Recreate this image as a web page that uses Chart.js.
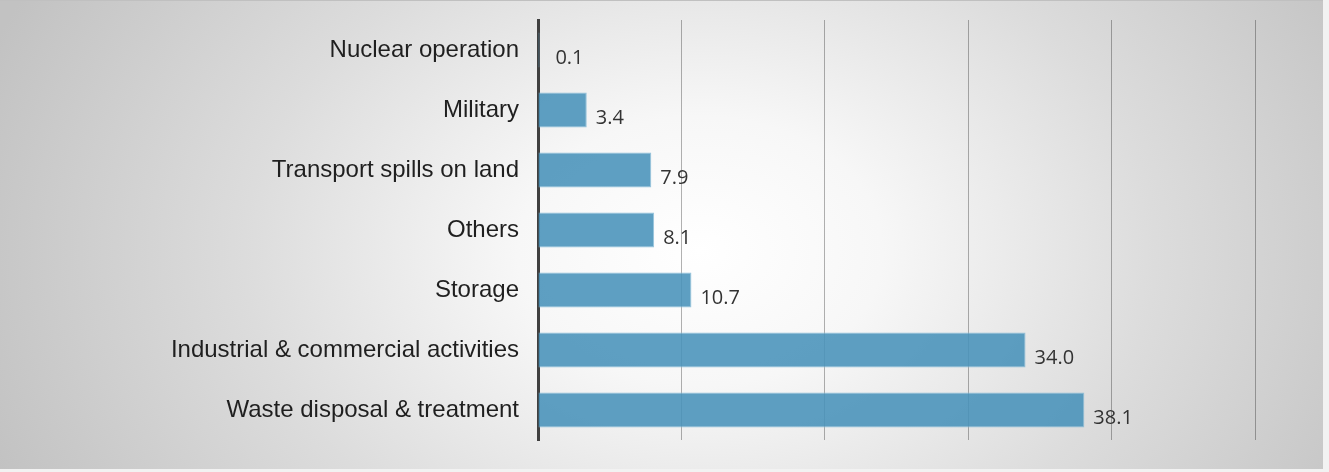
<!doctype html>
<html lang="en">
<head>
  <meta charset="utf-8">
  <title>Sources of contamination</title>
  <style type="text/css">
    html, body {
      margin: 0;
      padding: 0;
      background: #f2f2f2;
    }
    #frame {
      position: absolute;
      left: 0;
      top: 0;
      width: 1323px;
      height: 468px;
      background: radial-gradient(ellipse 760px 560px at 700px 250px, #ffffff 0%, #f7f7f7 24%, #dcdcdc 60%, #c2c2c2 100%);
      border-top: 1px solid #c0c0c0;
    }
    #chart_wrap {
      position: absolute;
      left: 0;
      top: 0;
      width: 1329px;
      height: 472px;
    }
  </style>
</head>
<body>
  <div id="frame"></div>
  <div id="chart_wrap">
    <canvas id="chart_sources" width="1329" height="472"></canvas>
  </div>

  <script src="https://cdn.jsdelivr.net/npm/chart.js"></script>
  <script>
    const labels_sources = ['Nuclear operation', 'Military', 'Transport spills on land', 'Others', 'Storage', 'Industrial & commercial activities', 'Waste disposal & treatment'];
    const data_sources = [0.1, 3.4, 7.9, 8.1, 10.7, 34.0, 38.1];
    const x_ticks = [0, 10, 20, 30, 40, 50];

    // draws the value next to the end of every bar
    const valueLabels = {
      id: 'valueLabels',
      afterDatasetsDraw(chart) {
        const ctx = chart.ctx;
        const meta = chart.getDatasetMeta(0);
        ctx.save();
        ctx.font = '20px "Open Sans"';
        ctx.fillStyle = '#333333';
        ctx.textAlign = 'left';
        ctx.textBaseline = 'middle';
        meta.data.forEach(function (bar, i) {
          var extra = data_sources[i] < 1 ? 16 : 9;
          ctx.fillText(data_sources[i].toFixed(1), bar.x + extra, bar.y + 8);
        });
        ctx.restore();
      }
    };

    const config_sources = {
      type: 'bar',
      data: {
        labels: labels_sources,
        datasets: [{
          data: data_sources,
          backgroundColor: 'rgba(72, 146, 186, 0.88)',
          borderColor: 'rgba(140, 190, 216, 0.9)',
          borderWidth: 1,
          borderSkipped: 'left',
          barPercentage: 0.58,
          categoryPercentage: 1
        }]
      },
      options: {
        indexAxis: 'y',
        responsive: false,
        animation: false,
        layout: {
          padding: { left: 0, right: 74, top: 20, bottom: 32 }
        },
        plugins: {
          legend: { display: false },
          tooltip: { enabled: false }
        },
        scales: {
          x: {
            min: 0,
            max: 50,
            afterBuildTicks: function (scale) {
              scale.ticks = x_ticks.map(function (v) { return { value: v }; });
            },
            afterFit: function (scale) {
              scale.height = 0;
              scale.paddingLeft = 0;
              scale.paddingRight = 0;
            },
            ticks: { display: false },
            grid: {
              color: 'rgba(0, 0, 0, 0.3)',
              lineWidth: 1,
              drawTicks: false
            },
            border: { display: false }
          },
          y: {
            afterFit: function (scale) {
              scale.width = 538;
              scale.paddingTop = 0;
              scale.paddingBottom = 0;
            },
            ticks: {
              color: '#1f1f1f',
              padding: 19,
              font: { family: '"Liberation Sans", Arial, sans-serif', size: 24 }
            },
            grid: { display: false, drawTicks: false },
            border: { display: true, color: '#404040', width: 3 }
          }
        }
      },
      plugins: [valueLabels]
    };

    const chart_sources = new Chart(
      document.getElementById('chart_sources'),
      config_sources
    );
  </script>
</body>
</html>
